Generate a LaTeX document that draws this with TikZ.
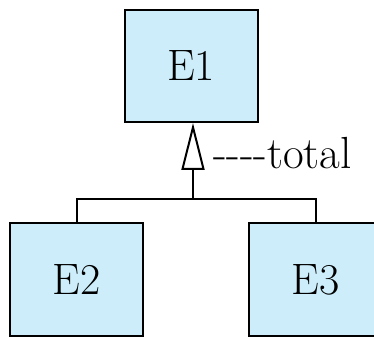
\documentclass[tikz,border=0pt]{standalone}
\usetikzlibrary{arrows.meta}
\definecolor{entblue}{RGB}{204,237,249}
\begin{document}
\begin{tikzpicture}[x=1pt,y=1pt,line width=2pt,
    entity/.style={draw,fill=entblue,minimum width=133pt,minimum height=112pt,inner sep=0pt,
      font=\fontsize{44}{44}\selectfont}]
    \clip (0,0) rectangle (374,337);
    % superclass and the two subclasses
    \node[entity] (e1) at (191,271) {E1};
    \node[entity] (e2) at (76.5,57.5) {E2};
    \node[entity] (e3) at (315.5,57.5) {E3};

    % isa triangle and the branching lines
    \coordinate (isa) at (193,138);
    \draw[-{Triangle[open,length=47pt,width=23pt]}] (isa) -- (isa |- e1.south);
    \draw (e2.north) |- (isa) -| (e3.north);
    \node[anchor=base west,inner sep=0pt,font=\fontsize{45}{45}\selectfont] (tot) at (212,168) {-{}-{}-{}-total};
\end{tikzpicture}
\end{document}
